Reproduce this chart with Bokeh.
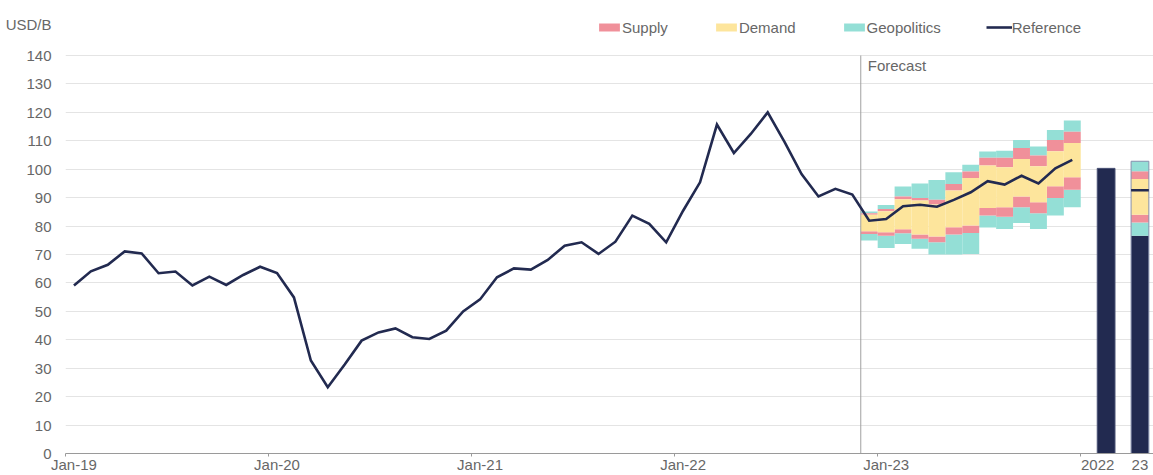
import pandas as pd
from bokeh.plotting import figure
from bokeh.models import Range1d, FixedTicker, Label, Legend, LegendItem
from bokeh.embed import file_html
from bokeh.resources import INLINE

# ---------------- data ----------------
months = [d.strftime("%b-%y") for d in pd.date_range("2019-01-01", "2023-12-01", freq="MS")]

reference = [59.1, 64.1, 66.4, 71.1, 70.4, 63.4, 64.0, 59.1, 62.2, 59.3, 62.8, 65.7,
             63.5, 54.9, 32.7, 23.3, 31.3, 39.7, 42.6, 44.0, 40.9, 40.3, 43.2, 50.0,
             54.2, 62.0, 65.1, 64.7, 68.1, 73.1, 74.3, 70.2, 74.5, 83.7, 80.8, 74.3,
             85.4, 95.4, 115.7, 105.7, 112.4, 120.0, 109.5, 98.3, 90.4, 93.1, 91.1, 81.9,
             82.5, 87.0, 87.5, 86.8, 89.2, 91.9, 95.8, 94.6, 97.7, 95.0, 100.3, 103.3]

forecast_start = "Dec-22"
# band boundaries for Dec-22 .. Dec-23
geo_lo = [74.9, 72.3, 73.7, 72.0, 70.0, 70.0, 70.2, 79.5, 79.0, 81.1, 79.0, 83.7, 86.6]
sup_lo = [77.2, 76.6, 77.5, 75.5, 74.3, 77.0, 77.6, 83.7, 83.3, 86.6, 84.5, 89.9, 92.8]
dem_lo = [78.2, 77.8, 78.9, 77.0, 76.3, 79.6, 80.2, 86.4, 86.6, 90.4, 88.4, 94.0, 97.2]
dem_hi = [84.0, 85.2, 89.4, 89.0, 87.6, 92.5, 96.9, 101.3, 100.7, 103.6, 101.0, 106.3, 109.2]
sup_hi = [84.5, 86.0, 90.4, 89.9, 89.3, 94.8, 99.2, 104.0, 104.0, 107.5, 104.8, 110.3, 113.2]
geo_hi = [85.1, 87.4, 93.9, 95.0, 96.2, 98.9, 101.6, 106.2, 106.5, 110.3, 108.0, 113.8, 117.1]

annual_labels = ["2022", "23"]
annual_reference = [100.3, 92.6]
annual23_geo_lo = 76.6
annual23_sup_lo = 81.3
annual23_dem_lo = 84.0
annual23_dem_hi = 96.6
annual23_sup_hi = 99.3
annual23_geo_hi = 102.8

y_ticks = list(range(0, 141, 10))
unit_label = "USD/B"
legend_labels = ["Supply", "Demand", "Geopolitics", "Reference"]

# ---------------- style / layout ----------------
NAVY = "#222a50"
PINK = "#f0909a"
YELLOW = "#fde59c"
TEAL = "#94dfd6"
TEXT = "#676767"
FONT = "Liberation Sans"
W, H = 1153, 475
FRAME_BOTTOM = 453          # pixel row of the zero line
TOP_TICK_PX = 55            # pixel row of the top gridline
UNIT_PX = 24.5              # pixel row of the unit label

n = len(months)
x_all = list(range(n))
fc0 = months.index(forecast_start)
fc_x = list(range(fc0, n))

y_top = y_ticks[-1] * FRAME_BOTTOM / (FRAME_BOTTOM - TOP_TICK_PX)
unit_y = round(y_top * (FRAME_BOTTOM - UNIT_PX) / FRAME_BOTTOM, 3)

p = figure(width=W, height=H,
           x_range=Range1d(-0.5, 63.8), y_range=Range1d(0, y_top),
           output_backend="svg", toolbar_location=None,
           min_border_left=65, min_border_right=0, min_border_top=0, min_border_bottom=0)
p.outline_line_color = None
p.background_fill_color = "white"
p.xgrid.visible = False
p.ygrid.ticker = FixedTicker(ticks=y_ticks)
p.ygrid.grid_line_color = "#e4e4e4"
p.ygrid.grid_line_width = 1.2

# y axis (unit label shown as the topmost label)
p.yaxis.ticker = FixedTicker(ticks=y_ticks + [unit_y])
p.yaxis.major_label_overrides = {unit_y: unit_label}
p.yaxis.axis_line_color = None
p.yaxis.major_tick_line_color = None
p.yaxis.minor_tick_line_color = None
p.yaxis.major_tick_out = 0
p.yaxis.major_label_standoff = 14
p.yaxis.major_label_text_font = FONT
p.yaxis.major_label_text_font_size = "15px"
p.yaxis.major_label_text_color = TEXT

# x axis: labels at category centres, tick marks at year boundaries
year_idx = list(range(0, n, 12))
ann_x = [n + 1, n + 3]
label_pos = year_idx + [n + 0.5, ann_x[1]]
label_txt = [months[i] for i in year_idx] + annual_labels
p.xaxis.ticker = FixedTicker(ticks=label_pos, minor_ticks=[i - 0.5 for i in year_idx] + [n - 0.5])
p.xaxis.major_label_overrides = {pos: t for pos, t in zip(label_pos, label_txt)}
p.xaxis.axis_line_color = "#9a9a9a"
p.xaxis.major_tick_line_color = None
p.xaxis.major_tick_out = 0
p.xaxis.major_tick_in = 0
p.xaxis.minor_tick_line_color = "#9a9a9a"
p.xaxis.minor_tick_out = 3
p.xaxis.minor_tick_in = 0
p.xaxis.major_label_standoff = -1
p.xaxis.major_label_text_font = FONT
p.xaxis.major_label_text_font_size = "15px"
p.xaxis.major_label_text_color = TEXT

# forecast bands (stacked columns, no gap)
r_geo = p.vbar(x=fc_x, bottom=geo_lo, top=sup_lo, width=1.0, fill_color=TEAL, line_color=None)
p.vbar(x=fc_x, bottom=sup_hi, top=geo_hi, width=1.0, fill_color=TEAL, line_color=None)
r_sup = p.vbar(x=fc_x, bottom=sup_lo, top=dem_lo, width=1.0, fill_color=PINK, line_color=None)
p.vbar(x=fc_x, bottom=dem_hi, top=sup_hi, width=1.0, fill_color=PINK, line_color=None)
r_dem = p.vbar(x=fc_x, bottom=dem_lo, top=dem_hi, width=1.0, fill_color=YELLOW, line_color=None)

# forecast divider
p.segment(x0=[fc0 - 0.5], y0=[0], x1=[fc0 - 0.5], y1=[y_ticks[-1]], line_color="#a0a0a0", line_width=1)
p.add_layout(Label(x=fc0 - 0.5, y=y_ticks[-1], x_offset=7, y_offset=-10, text="Forecast",
                   text_baseline="middle", text_font=FONT, text_font_size="15px",
                   text_color=TEXT))

# reference line
r_ref = p.line(x_all, reference, line_color=NAVY, line_width=2.6, line_join="miter")

# annual bars
bw = 1.05
p.vbar(x=[ann_x[0]], bottom=0, top=[annual_reference[0]], width=bw,
       fill_color=NAVY, line_color="#4a5275", line_width=1)
seg_bottom = [0, annual23_geo_lo, annual23_sup_lo, annual23_dem_lo, annual23_dem_hi, annual23_sup_hi]
seg_top = [annual23_geo_lo, annual23_sup_lo, annual23_dem_lo, annual23_dem_hi, annual23_sup_hi, annual23_geo_hi]
seg_col = [NAVY, TEAL, PINK, YELLOW, PINK, TEAL]
p.vbar(x=[ann_x[1]] * 6, bottom=seg_bottom, top=seg_top, width=bw, fill_color=seg_col, line_color=None)
p.quad(left=[ann_x[1] - bw / 2], right=[ann_x[1] + bw / 2], bottom=[0], top=[annual23_geo_hi],
       fill_color=None, line_color="#8790ad", line_width=1)
p.hbar(y=[annual_reference[1]], left=ann_x[1] - bw / 2, right=ann_x[1] + bw / 2,
       height=0.8, fill_color=NAVY, line_color=None)

# legend (inside the frame, above the top gridline)
legend = Legend(items=[LegendItem(label=lab, renderers=[r])
                       for lab, r in zip(legend_labels, [r_sup, r_dem, r_geo, r_ref])],
                orientation="horizontal", location=(531, FRAME_BOTTOM - 27 - 8.5),
                spacing=45, padding=0, margin=0,
                glyph_width=26, glyph_height=10, label_standoff=0, label_height=10,
                label_text_font=FONT, label_text_font_size="15px", label_text_color=TEXT,
                background_fill_alpha=0, border_line_color=None)
p.add_layout(legend)

open("out.html", "w").write(file_html(p, INLINE))
